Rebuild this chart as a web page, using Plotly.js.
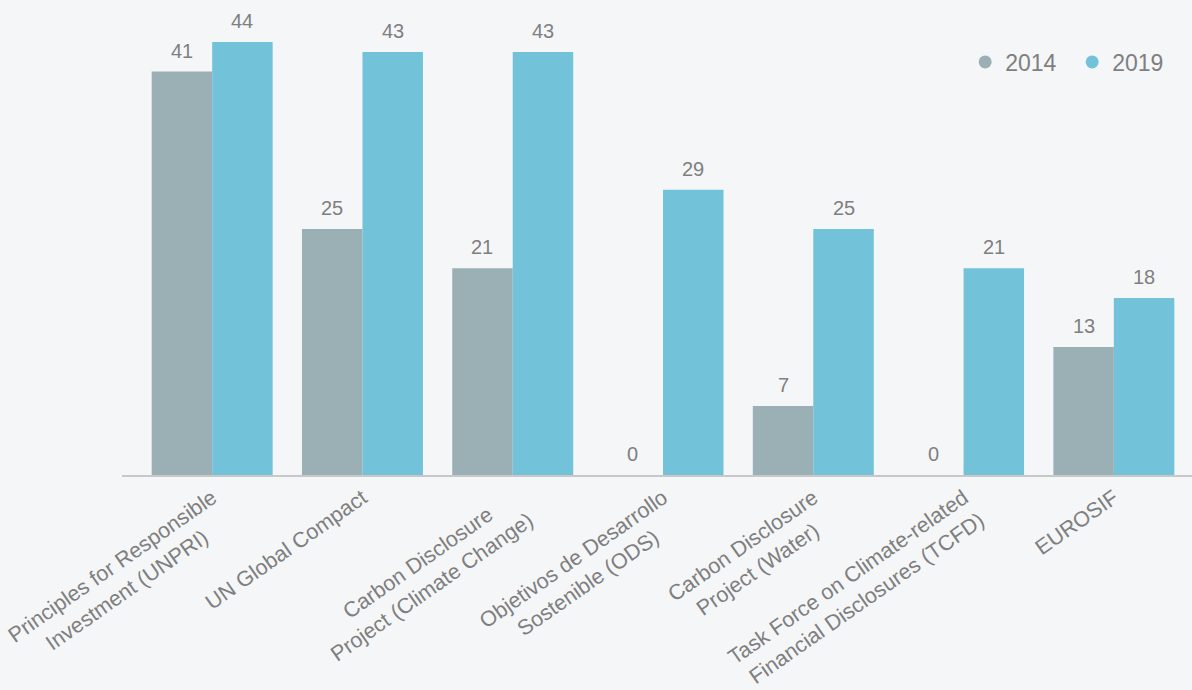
<!DOCTYPE html>
<html>
<head>
<meta charset="utf-8">
<script src="https://cdn.plot.ly/plotly-3.0.1.min.js"></script>
<style>
html,body{margin:0;padding:0;background:#f5f6f8;}
#chart{width:1192px;height:690px;}
</style>
</head>
<body>
<div id="chart"></div>
<script>
// Two-line labels; trailing no-break spaces centre the shorter line under the longer one
const categories = [
  "Principles for Responsible<br>Investment (UNPRI)\u00a0\u00a0\u00a0\u00a0\u00a0",
  "UN Global Compact",
  "Carbon Disclosure\u00a0\u00a0\u00a0\u00a0\u00a0<br>Project (Climate Change)",
  "Objetivos de Desarrollo<br>Sostenible (ODS)\u00a0\u00a0\u00a0\u00a0\u00a0",
  "Carbon Disclosure<br>Project (Water)\u00a0\u00a0\u00a0",
  "Task Force on Climate-related<br>Financial Disclosures (TCFD)",
  "EUROSIF"
];
const values2014 = [41, 25, 21, 0, 7, 0, 13];
const values2019 = [44, 43, 43, 29, 25, 21, 18];
const seriesNames = ["2014", "2019"];
const colors = ["#9ab0b5", "#72c3da"];

const idx = categories.map((c, i) => i);
const bargap = 0.195;
const half = (1 - bargap) / 4;
const FONT = "Liberation Sans, Arial, sans-serif";

const traces = [
  {type: "bar", x: idx, y: values2014, name: seriesNames[0], marker: {color: colors[0]}, showlegend: false, hoverinfo: "y"},
  {type: "bar", x: idx, y: values2019, name: seriesNames[1], marker: {color: colors[1]}, showlegend: false, hoverinfo: "y"},
  {type: "scatter", mode: "markers", x: [0], y: [null], name: seriesNames[0], marker: {color: colors[0], size: 13, symbol: "circle"}, showlegend: true},
  {type: "scatter", mode: "markers", x: [0], y: [null], name: seriesNames[1], marker: {color: colors[1], size: 13, symbol: "circle"}, showlegend: true}
];

const annotations = [];
[values2014, values2019].forEach((vals, s) => {
  vals.forEach((v, i) => {
    annotations.push({
      x: i + (s === 0 ? -half : half), y: v, xref: "x", yref: "y",
      text: String(v), showarrow: false, yanchor: "bottom", yshift: 8,
      font: {family: FONT, size: 20, color: "#7f7f7f"}
    });
  });
});

const layout = {
  width: 1192, height: 690,
  paper_bgcolor: "#f5f6f8", plot_bgcolor: "#f5f6f8",
  margin: {l: 122, r: 0, t: 20, b: 215},
  barmode: "group", bargap: bargap, bargroupgap: 0,
  font: {family: FONT, color: "#7f7f7f"},
  xaxis: {
    type: "linear", range: [-0.6, 6.52],
    tickmode: "array", tickvals: idx, ticktext: categories,
    tickangle: -35, tickfont: {size: 21.5, color: "#7f7f7f"},
    ticklabeloverflow: "allow",
    showline: true, linecolor: "#c8c8c8", linewidth: 2,
    showgrid: false, zeroline: false, ticks: "", fixedrange: true
  },
  yaxis: {range: [0, 46.24], visible: false, showgrid: false, zeroline: false, fixedrange: true},
  legend: {
    orientation: "h", x: 0.988, xanchor: "right", y: 0.955, yanchor: "top",
    font: {size: 23, color: "#7f7f7f"}, bgcolor: "rgba(0,0,0,0)", itemwidth: 30,
    entrywidth: 62, entrywidthmode: "pixels"
  },
  annotations: annotations,
  showlegend: true
};

Plotly.newPlot("chart", traces, layout, {displayModeBar: false, staticPlot: true});
</script>
</body>
</html>
